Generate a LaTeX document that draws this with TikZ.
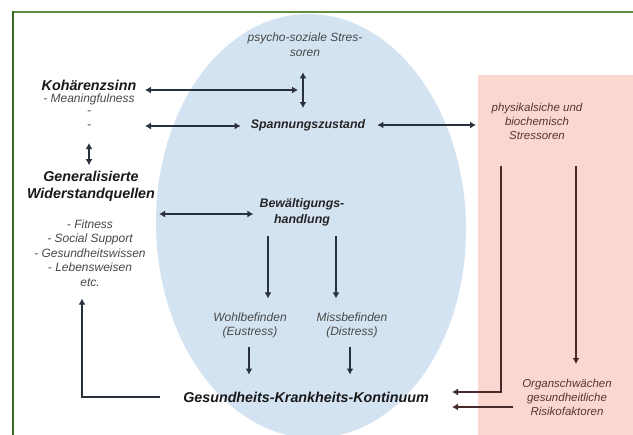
\documentclass[tikz,border=0pt]{standalone}
\usepackage{fontspec}
\setmainfont{Liberation Sans}
\usetikzlibrary{positioning,arrows.meta}
\definecolor{framegreen}{HTML}{5E8F43}
\definecolor{framedark}{HTML}{386A22}
\definecolor{ellblue}{HTML}{D4E3F1}
\definecolor{boxpink}{HTML}{FCD6D0}
\definecolor{txtgray}{HTML}{484848}
\definecolor{txtbrown}{HTML}{5A3434}
\definecolor{arrgray}{HTML}{28313C}
\begin{document}
\begin{tikzpicture}[x=1pt,y=-1pt,>={Latex[length=6pt,width=7pt]},
    bigtxt/.style={font=\fontsize{14.3}{17}\selectfont\bfseries\itshape,text=black!90,inner sep=0pt,align=center},
    midtxt/.style={font=\fontsize{12.4}{16.5}\selectfont\bfseries\itshape,text=black!85,inner sep=0pt,align=center},
    smalltxt/.style={font=\fontsize{12}{14.5}\selectfont\itshape,text=txtgray,inner sep=0pt,align=center},
    pinktxt/.style={font=\fontsize{11.5}{14}\selectfont\itshape,text=txtbrown,inner sep=0pt,align=center},
    conn/.style={draw=arrgray,line width=1.2pt},
    pinkline/.style={draw=txtbrown!80!black,line width=1.2pt}]

    \useasboundingbox (0,0) rectangle (633,435);
    \fill[white] (0,0) rectangle (633,435);

    % backgrounds
    \fill[ellblue,rotate around={1.5:(311,226)}] (311,226) ellipse [x radius=155,y radius=212];
    \node[fill=boxpink,minimum width=155,minimum height=360,anchor=north west,inner sep=0pt] (physbox) at (478,75) {};
    \draw[framegreen,line width=2pt] (12,12) -- (633,12);
    \draw[framedark,line width=2pt] (13,11) -- (13,435);

    % texts
    \node[smalltxt] (psycho) at (305,44.5) {psycho-soziale Stres-\\soren};
    \node[bigtxt] (koh) at (89,85) {Kohärenzsinn};
    \node[smalltxt] (meaning) at (89,99) {- Meaningfulness};
    \node[smalltxt] (dashA) at (89,113) {-};
    \node[smalltxt] (dashB) at (89,127) {-};
    \node[bigtxt] (gen) at (91,186.5) {Generalisierte\\Widerstandquellen};
    \node[smalltxt] (res) at (90,253) {- Fitness\\- Social Support\\- Gesundheitswissen\\- Lebensweisen\\etc.};
    \node[midtxt] (spann) at (308,125) {Spannungszustand};
    \node[midtxt] (bew) at (302,212.5) {Bewältigungs-\\handlung};
    \node[smalltxt] (wohl) at (250,325.5) {Wohlbefinden\\(Eustress)};
    \node[smalltxt] (miss) at (352,325.5) {Missbefinden\\(Distress)};
    \node[bigtxt] (gkk) at (306,397) {Gesundheits-Krankheits-Kontinuum};
    \node[pinktxt] (phys) at (537,121) {physikalsiche und\\biochemisch\\Stressoren};
    \node[pinktxt] (organ) at (567,397) {Organschwächen\\gesundheitliche\\Risikofaktoren};

    % free arrow ends
    \coordinate (kohR) at (298,90);
    \coordinate (dashR) at (145,126);
    \coordinate (genR) at (159,214);
    \coordinate (gkkA) at (452,392);
    \coordinate (gkkB) at (452,407);

    % connectors
    \draw[conn,<->,shorten <=8.5pt] (koh.east |- kohR) -- (kohR);
    \draw[conn,<->,shorten <=16pt,shorten >=11pt] ([xshift=-2pt]psycho.south) -- ([xshift=-5pt]spann.north);
    \draw[conn,<->,shorten >=10pt] (dashR) -- (dashR -| spann.west);
    \draw[conn,<->,shorten <=12pt,shorten >=2pt] (spann.east) -- (spann.east -| physbox.west);
    \draw[conn,<->,shorten <=14pt,shorten >=6pt] (dashB.south) -- (dashB.south |- gen.north);
    \draw[conn,<->,shorten >=6pt] (genR) -- (genR -| bew.west);
    \draw[conn,->,shorten <=9.5pt,shorten >=14pt] ([xshift=-34pt]bew.south) -- ([xshift=18pt]wohl.north);
    \draw[conn,->,shorten <=9.5pt,shorten >=14pt] ([xshift=34pt]bew.south) -- ([xshift=-16pt]miss.north);
    \draw[conn,->,shorten <=8.5pt,shorten >=17pt] ([xshift=-1pt]wohl.south) -- ([xshift=-1pt]wohl.south |- gkk.north);
    \draw[conn,->,shorten <=8.5pt,shorten >=17pt] ([xshift=-2pt]miss.south) -- ([xshift=-2pt]miss.south |- gkk.north);
    \draw[conn,->,shorten <=23pt,shorten >=12pt] (gkk.west) -| ([xshift=-8pt]res.south);
    \draw[pinkline,->,shorten <=27pt] ([xshift=-36pt]phys.south) |- (gkkA);
    \draw[pinkline,->,shorten <=27pt,shorten >=14.5pt] ([xshift=39pt]phys.south) -- ([xshift=9pt]organ.north);
    \draw[pinkline,->,shorten <=9pt] (organ.west |- gkkB) -- (gkkB);
\end{tikzpicture}
\end{document}
